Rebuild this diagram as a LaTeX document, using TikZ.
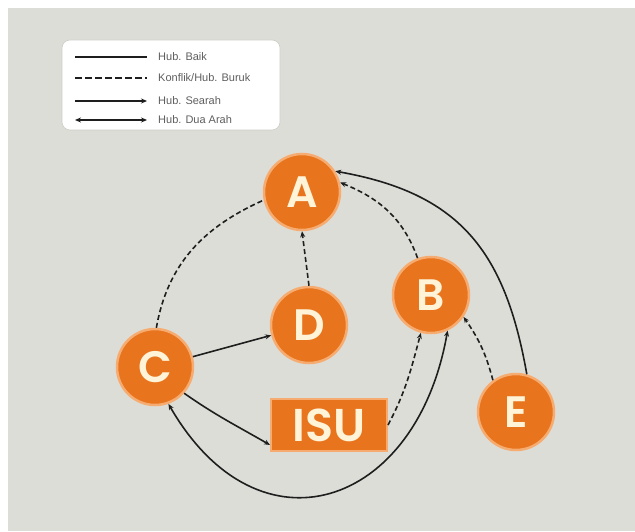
\documentclass[tikz,border=0pt]{standalone}
\usepackage{fontspec}
\setmainfont{Liberation Sans}
\newfontfamily\letterfont{Poppins}[BoldFont={* SemiBold}]
\usetikzlibrary{arrows.meta}

\definecolor{bg}{RGB}{221,221,216}
\definecolor{orng}{RGB}{232,116,30}
\definecolor{glow}{RGB}{246,172,112}
\definecolor{cream}{RGB}{255,244,216}
\definecolor{ink}{RGB}{30,30,30}
\definecolor{legtext}{RGB}{95,95,95}
\definecolor{legframe}{RGB}{205,205,200}

\begin{document}
\begin{tikzpicture}[x=1pt,y=1pt,
  actor/.style={circle, fill=orng, draw=glow, line width=2.5pt,
    minimum size=76pt, inner sep=0pt, text=cream,
    font=\letterfont\bfseries\fontsize{44}{44}\selectfont},
  issue/.style={rectangle, fill=orng, draw=glow, line width=2pt,
    minimum width=116pt, minimum height=52pt, inner sep=0pt, text=cream,
    font=\letterfont\bfseries\fontsize{46}{46}\selectfont},
  link/.style={draw=ink, line width=1.6pt},
  conflict/.style={link, dash pattern=on 5pt off 3pt},
  tip/.style={-{Stealth[length=6pt,width=5pt]}},
  bothtips/.style={{Stealth[length=6pt,width=5pt]}-{Stealth[length=6pt,width=5pt]}},
  legendbox/.style={rectangle, rounded corners=8pt, fill=white, draw=legframe,
    line width=0.6pt, minimum width=218pt, minimum height=90pt},
  legendtext/.style={anchor=west, inner sep=0pt, text=legtext,
    font=\fontsize{11}{11}\selectfont},
  legendline/.style={draw=ink, line width=1.8pt}
]
% canvas
\useasboundingbox (0,0) rectangle (635,531);
\fill[white] (0,0) rectangle (635,531);
\fill[bg] (8,0) rectangle (635,523);

% legend
\node[legendbox] (legend) at (171,446) {};
\coordinate (l1a) at (75,474); \coordinate (l1b) at (147,474);
\coordinate (l2a) at (75,453); \coordinate (l2b) at (147,453);
\coordinate (l3a) at (75,430); \coordinate (l3b) at (147,430);
\coordinate (l4a) at (75,411); \coordinate (l4b) at (147,411);
\draw[legendline] (l1a) -- (l1b);
\draw[legendline, dash pattern=on 7pt off 3pt] (l2a) -- (l2b);
\draw[legendline, tip] (l3a) -- (l3b);
\draw[legendline, bothtips] (l4a) -- (l4b);
\node[legendtext] (t1) at (158,474) {Hub. Baik};
\node[legendtext] (t2) at (158,453) {Konflik/Hub. Buruk};
\node[legendtext] (t3) at (158,430) {Hub. Searah};
\node[legendtext] (t4) at (158,411) {Hub. Dua Arah};

% actors and the issue
\node[actor] (A) at (302,339) {A};
\node[actor] (B) at (431,236) {B};
\node[actor] (C) at (155,164) {C};
\node[actor] (D) at (309,206) {D};
\node[actor] (E) at (516,119) {E};
\node[issue] (ISU) at (329,106) {ISU};

% relations
\draw[conflict] (C.88) to[out=80,in=204] (A.192);
\draw[conflict, tip] (D.north) -- (A.south);
\draw[link, tip] (C) -- (D);
\draw[link, tip] (C.-42) to[out=-35,in=150] ([yshift=7pt]ISU.south west);
\draw[conflict, tip] (ISU.east) to[out=62,in=255] (B.255);
\draw[link, bothtips] (C.-70) to[out=-60,in=-100,looseness=1.6] (B.-65);
\draw[conflict, tip] (B.110) to[out=110,in=-22] (A.14);
\draw[conflict, tip] (E.126) to[bend right=10] (B.-34);
\draw[link, tip] (E.74) to[out=100,in=-10,looseness=1.15] (A.32);
\end{tikzpicture}
\end{document}
